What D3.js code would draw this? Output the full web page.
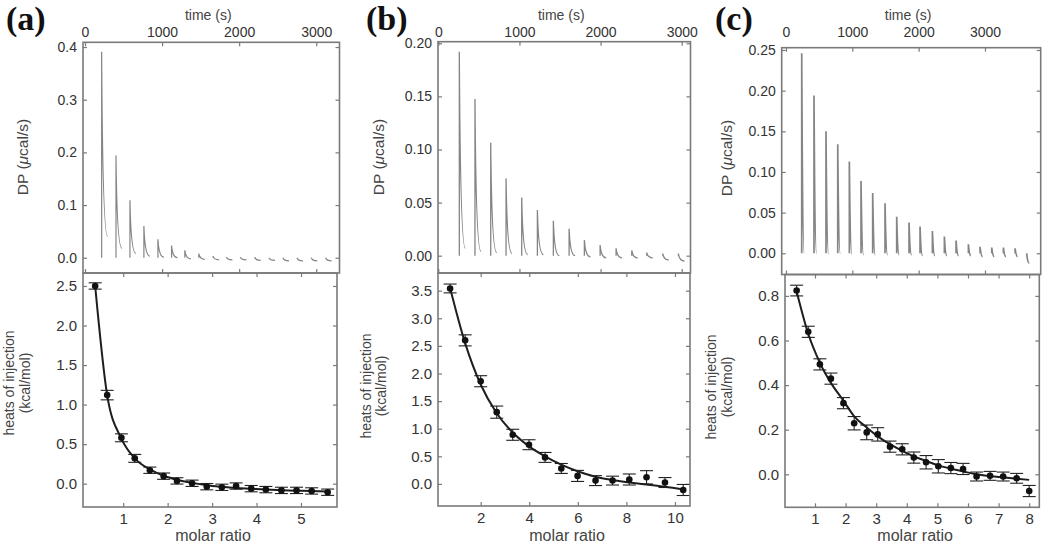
<!DOCTYPE html>
<html><head><meta charset="utf-8">
<script src="https://cdn.jsdelivr.net/npm/d3@7/dist/d3.min.js"></script>
<style>body{margin:0;background:#fff} svg{display:block}</style>
</head><body>
<svg id="chart" width="1050" height="543"></svg>
<script>
// ---------------- DATA ----------------
const panelLabels = ["(a)", "(b)", "(c)"];
const timeTicks = [0, 1000, 2000, 3000];

// (a) raw thermogram
const aInjTime = [216, 402, 583, 764, 946, 1123, 1295, 1477, 1662, 1835, 2016, 2202, 2387, 2569, 2750, 2936, 3122];
const aPeak    = [0.391, 0.194, 0.109, 0.060, 0.035, 0.023, 0.014, 0.008, 0.003, 0.001, 0.001, 0.001, 0.000, 0.000, 0.000, 0.000, 0.000];
const aTail    = [0.040, 0.018, 0.008, 0.003, 0.001, 0.000, -0.002, -0.003, -0.004, -0.004, -0.004, -0.005, -0.005, -0.006, -0.006, -0.006, -0.006];
// (a) integrated heats
const aMolar = [0.37, 0.64, 0.96, 1.26, 1.60, 1.91, 2.21, 2.55, 2.88, 3.22, 3.54, 3.88, 4.21, 4.56, 4.90, 5.24, 5.60];
const aHeat  = [2.50, 1.12, 0.58, 0.32, 0.17, 0.095, 0.035, 0.005, -0.038, -0.046, -0.030, -0.063, -0.075, -0.085, -0.085, -0.092, -0.108];
const aErr   = [0.04, 0.06, 0.05, 0.05, 0.04, 0.04, 0.04, 0.04, 0.04, 0.04, 0.04, 0.04, 0.04, 0.04, 0.04, 0.04, 0.04];
const aFit   = [2.50, 1.12, 0.57, 0.32, 0.18, 0.10, 0.05, 0.01, -0.02, -0.04, -0.055, -0.065, -0.075, -0.082, -0.088, -0.094, -0.10];
const aDpTicks = [0, 0.1, 0.2, 0.3, 0.4];
const aHeatTicks = [0, 0.5, 1.0, 1.5, 2.0, 2.5];
const aMolarTicks = [1, 2, 3, 4, 5];

// (b) raw thermogram
const bInjTime = [259, 452, 646, 835, 1028, 1221, 1418, 1612, 1800, 1994, 2191, 2384, 2569, 2766, 2959];
const bPeak    = [0.192, 0.1476, 0.1064, 0.0728, 0.0549, 0.043, 0.033, 0.0254, 0.0148, 0.010, 0.007, 0.005, 0.003, 0.002, 0.002];
const bTail    = [0.007, 0.004, 0.003, 0.002, 0.001, 0.001, 0.000, 0.000, -0.001, -0.002, -0.002, -0.002, -0.002, -0.004, -0.005];
// (b) integrated heats
const bMolar = [0.74, 1.36, 2.00, 2.66, 3.32, 3.99, 4.65, 5.32, 5.99, 6.73, 7.43, 8.12, 8.83, 9.59, 10.34];
const bHeat  = [3.54, 2.60, 1.86, 1.30, 0.89, 0.71, 0.48, 0.28, 0.145, 0.06, 0.06, 0.08, 0.12, 0.025, -0.11];
const bErr   = [0.08, 0.10, 0.10, 0.11, 0.10, 0.09, 0.09, 0.09, 0.10, 0.09, 0.08, 0.10, 0.12, 0.09, 0.10];
const bFit   = [3.55, 2.55, 1.80, 1.28, 0.93, 0.68, 0.50, 0.35, 0.23, 0.13, 0.07, 0.025, -0.01, -0.05, -0.10];
const bDpTicks = [0, 0.05, 0.10, 0.15, 0.20];
const bHeatTicks = [0, 0.5, 1.0, 1.5, 2.0, 2.5, 3.0, 3.5];
const bMolarTicks = [2, 4, 6, 8, 10];

// (c) raw thermogram
const cInjTime = [237, 422, 603, 780, 955, 1131, 1307, 1493, 1669, 1855, 2021, 2207, 2388, 2564, 2750, 2926, 3102, 3278, 3454, 3630];
const cPeak    = [0.246, 0.194, 0.150, 0.134, 0.113, 0.089, 0.074, 0.0615, 0.045, 0.0377, 0.0328, 0.0275, 0.0205, 0.0156, 0.011, 0.008, 0.007, 0.007, 0.006, -0.002];
const cTail    = [0.000, 0.000, -0.001, 0.000, -0.001, -0.002, -0.002, -0.002, -0.002, -0.002, -0.003, -0.003, -0.003, -0.003, -0.003, -0.004, -0.004, -0.004, -0.004, -0.012];
// (c) integrated heats
const cMolar = [0.40, 0.78, 1.16, 1.52, 1.93, 2.28, 2.69, 3.05, 3.45, 3.85, 4.23, 4.63, 5.03, 5.44, 5.84, 6.28, 6.72, 7.15, 7.59, 8.00];
const cHeat  = [0.824, 0.639, 0.493, 0.429, 0.319, 0.229, 0.188, 0.179, 0.124, 0.112, 0.075, 0.054, 0.036, 0.028, 0.024, -0.010, -0.007, -0.010, -0.018, -0.075];
const cErr   = [0.024, 0.025, 0.025, 0.025, 0.025, 0.030, 0.033, 0.030, 0.025, 0.025, 0.025, 0.030, 0.030, 0.025, 0.025, 0.020, 0.020, 0.020, 0.022, 0.025];
const cFit   = [0.82, 0.63, 0.50, 0.41, 0.33, 0.26, 0.21, 0.17, 0.135, 0.105, 0.08, 0.06, 0.04, 0.025, 0.013, 0.0, -0.008, -0.014, -0.02, -0.025];
const cDpTicks = [0, 0.05, 0.10, 0.15, 0.20, 0.25];
const cHeatTicks = [0, 0.2, 0.4, 0.6, 0.8];
const cMolarTicks = [1, 2, 3, 4, 5, 6, 7, 8];

// ---------------- LAYOUT ----------------
const svg = d3.select("#chart");
const SANS = "'Liberation Sans', Arial, sans-serif";
const FRAME = "#7a7a7a";
const TXT = "#333";

const panels = [
  { label: panelLabels[0], lx: 6,
    top: {x0: 83, x1: 339.5, y0: 42.3, y1: 273}, tDom: [-26, 3302], dpDom: [-0.029, 0.409], dpTicks: aDpTicks, dpFmt: ".1f",
    bot: {x0: 83, x1: 337, y0: 273, y1: 507}, mDom: [0.096, 5.81], hDom: [-0.295, 2.664], hTicks: aHeatTicks, hFmt: ".1f", mTicks: aMolarTicks,
    t: aInjTime, peak: aPeak, tail: aTail, hook: 6, peakW: 1.2, m: aMolar, h: aHeat, e: aErr, fit: aFit,
    dpX: 22.5, dpY: 157, hX1: 9.2, hX2: 25.5, hY: 383 },
  { label: panelLabels[1], lx: 366,
    top: {x0: 438, x1: 690.5, y0: 41.7, y1: 273}, tDom: [-3.7, 3108], dpDom: [-0.0163, 0.2015], dpTicks: bDpTicks, dpFmt: ".2f",
    bot: {x0: 438, x1: 690, y0: 273, y1: 506}, mDom: [0.242, 10.62], hDom: [-0.40, 3.82], hTicks: bHeatTicks, hFmt: ".1f", mTicks: bMolarTicks,
    t: bInjTime, peak: bPeak, tail: bTail, hook: 6, peakW: 1.3, m: bMolar, h: bHeat, e: bErr, fit: bFit,
    dpX: 379, dpY: 157, hX1: 366, hX2: 381.5, hY: 386 },
  { label: panelLabels[2], lx: 715,
    top: {x0: 781.7, x1: 1040.7, y0: 47.7, y1: 274.5}, tDom: [-64.8, 3840], dpDom: [-0.0261, 0.2528], dpTicks: cDpTicks, dpFmt: ".2f",
    bot: {x0: 785, x1: 1039.3, y0: 274.5, y1: 507.3}, mDom: [0.02, 8.33], hDom: [-0.148, 0.896], hTicks: cHeatTicks, hFmt: ".1f", mTicks: cMolarTicks,
    t: cInjTime, peak: cPeak, tail: cTail, hook: 2.5, peakW: 1.7, m: cMolar, h: cHeat, e: cErr, fit: cFit,
    dpX: 726.7, dpY: 158, hX1: 711, hX2: 727, hY: 387 }
];

function styleAxis(g, size) {
  g.select(".domain").remove();
  g.selectAll(".tick line").attr("stroke", FRAME).attr("stroke-width", 1.2);
  g.selectAll("text").attr("font-family", SANS).attr("font-size", size).attr("fill", TXT);
}

panels.forEach(p => {
  const g = svg.append("g");

  // ---------- top: thermogram ----------
  const T = p.top;
  const xT = d3.scaleLinear().domain(p.tDom).range([T.x0, T.x1]);
  const yT = d3.scaleLinear().domain(p.dpDom).range([T.y1, T.y0]);

  g.append("g").attr("transform", `translate(${T.x0},0)`)
    .call(d3.axisLeft(yT).tickValues(p.dpTicks).tickSize(-4).tickPadding(6).tickFormat(d3.format(p.dpFmt)))
    .call(a => styleAxis(a, 14));
  g.append("g").attr("transform", `translate(${T.x1},0)`)
    .call(d3.axisRight(yT).tickValues(p.dpTicks).tickSize(-4).tickFormat(""))
    .call(a => styleAxis(a, 14));
  g.append("g").attr("transform", `translate(0,${T.y0})`)
    .call(d3.axisTop(xT).tickValues(timeTicks).tickSize(-4).tickPadding(T.y0 - 37).tickFormat(d3.format("d")))
    .call(a => styleAxis(a, 14));
  g.append("g").attr("transform", `translate(0,${T.y1})`)
    .call(d3.axisBottom(xT).tickValues(timeTicks).tickSize(-4).tickFormat(""))
    .call(a => styleAxis(a, 14));

  // peaks
  const peaks = p.t.map((t, i) => ({t, pk: p.peak[i], tl: p.tail[i]}));
  g.append("g").selectAll("path").data(peaks).join("path")
    .attr("d", d => {
      const x0 = xT(d.t), yb = yT(0), yp = yT(d.pk), yt = yT(d.tl);
      return `M${x0},${yb}L${x0},${yp}Q${x0 + 1},${yt} ${x0 + p.hook},${yt}`;
    })
    .attr("fill", "none").attr("stroke", "#858585").attr("stroke-width", p.peakW);

  g.append("rect").attr("x", T.x0).attr("y", T.y0).attr("width", T.x1 - T.x0).attr("height", T.y1 - T.y0)
    .attr("fill", "none").attr("stroke", FRAME).attr("stroke-width", 1.6);

  g.append("text").attr("x", (T.x0 + T.x1) / 2 - 3).attr("y", 20).attr("text-anchor", "middle")
    .attr("font-family", SANS).attr("font-size", 14).attr("fill", "#444").text("time (s)");

  const dp = g.append("text").attr("transform", `translate(${p.dpX},${p.dpY}) rotate(-90)`)
    .attr("text-anchor", "middle").attr("dy", "0.35em")
    .attr("font-family", SANS).attr("font-size", 15.5).attr("fill", "#444");
  dp.append("tspan").text("DP (");
  dp.append("tspan").attr("font-style", "italic").text("μ");
  dp.append("tspan").text("cal/s)");

  // ---------- bottom: heats ----------
  const B = p.bot;
  const xB = d3.scaleLinear().domain(p.mDom).range([B.x0, B.x1]);
  const yB = d3.scaleLinear().domain(p.hDom).range([B.y1, B.y0]);

  g.append("g").attr("transform", `translate(${B.x0},0)`)
    .call(d3.axisLeft(yB).tickValues(p.hTicks).tickSize(-4).tickPadding(6).tickFormat(d3.format(p.hFmt)))
    .call(a => styleAxis(a, 15));
  g.append("g").attr("transform", `translate(${B.x1},0)`)
    .call(d3.axisRight(yB).tickValues(p.hTicks).tickSize(-4).tickFormat(""))
    .call(a => styleAxis(a, 15));
  g.append("g").attr("transform", `translate(0,${B.y1})`)
    .call(d3.axisBottom(xB).tickValues(p.mTicks).tickSize(-4).tickPadding(6).tickFormat(d3.format("d")))
    .call(a => styleAxis(a, 15));
  g.append("g").attr("transform", `translate(0,${B.y0})`)
    .call(d3.axisTop(xB).tickValues(p.mTicks).tickSize(-4).tickFormat(""))
    .call(a => styleAxis(a, 15));

  const pts = p.m.map((m, i) => ({m, h: p.h[i], e: p.e[i], f: p.fit[i]}));

  // error bars
  const eb = g.append("g").attr("stroke", "#222").attr("stroke-width", 1.1);
  eb.selectAll("line.v").data(pts).join("line").attr("class", "v")
    .attr("x1", d => xB(d.m)).attr("x2", d => xB(d.m))
    .attr("y1", d => yB(d.h - d.e)).attr("y2", d => yB(d.h + d.e));
  eb.selectAll("line.t").data(pts).join("line").attr("class", "t")
    .attr("x1", d => xB(d.m) - 6.5).attr("x2", d => xB(d.m) + 6.5)
    .attr("y1", d => yB(d.h + d.e)).attr("y2", d => yB(d.h + d.e));
  eb.selectAll("line.b").data(pts).join("line").attr("class", "b")
    .attr("x1", d => xB(d.m) - 6.5).attr("x2", d => xB(d.m) + 6.5)
    .attr("y1", d => yB(d.h - d.e)).attr("y2", d => yB(d.h - d.e));

  // fit line
  g.append("path").datum(pts)
    .attr("d", d3.line().x(d => xB(d.m)).y(d => yB(d.f)).curve(d3.curveMonotoneX))
    .attr("fill", "none").attr("stroke", "#1e1e1e").attr("stroke-width", 2);

  // points
  g.append("g").selectAll("circle").data(pts).join("circle")
    .attr("cx", d => xB(d.m)).attr("cy", d => yB(d.h)).attr("r", 3.3).attr("fill", "#111");

  g.append("rect").attr("x", B.x0).attr("y", B.y0).attr("width", B.x1 - B.x0).attr("height", B.y1 - B.y0)
    .attr("fill", "none").attr("stroke", FRAME).attr("stroke-width", 1.6);

  g.append("text").attr("x", (B.x0 + B.x1) / 2 + 3).attr("y", 541).attr("text-anchor", "middle")
    .attr("font-family", SANS).attr("font-size", 16).attr("fill", "#444").text("molar ratio");

  g.append("text").attr("transform", `translate(${p.hX1},${p.hY}) rotate(-90)`)
    .attr("text-anchor", "middle").attr("dy", "0.35em")
    .attr("font-family", SANS).attr("font-size", 14).attr("fill", "#444").text("heats of injection");
  g.append("text").attr("transform", `translate(${p.hX2},${p.hY}) rotate(-90)`)
    .attr("text-anchor", "middle").attr("dy", "0.35em")
    .attr("font-family", SANS).attr("font-size", 14).attr("fill", "#444").text("(kcal/mol)");

  // panel label
  g.append("text").attr("x", p.lx).attr("y", 30)
    .attr("font-family", "'Liberation Serif', 'Times New Roman', serif").attr("font-weight", "bold")
    .attr("font-size", 34).attr("fill", "#111").text(p.label);
});
</script>
</body></html>
